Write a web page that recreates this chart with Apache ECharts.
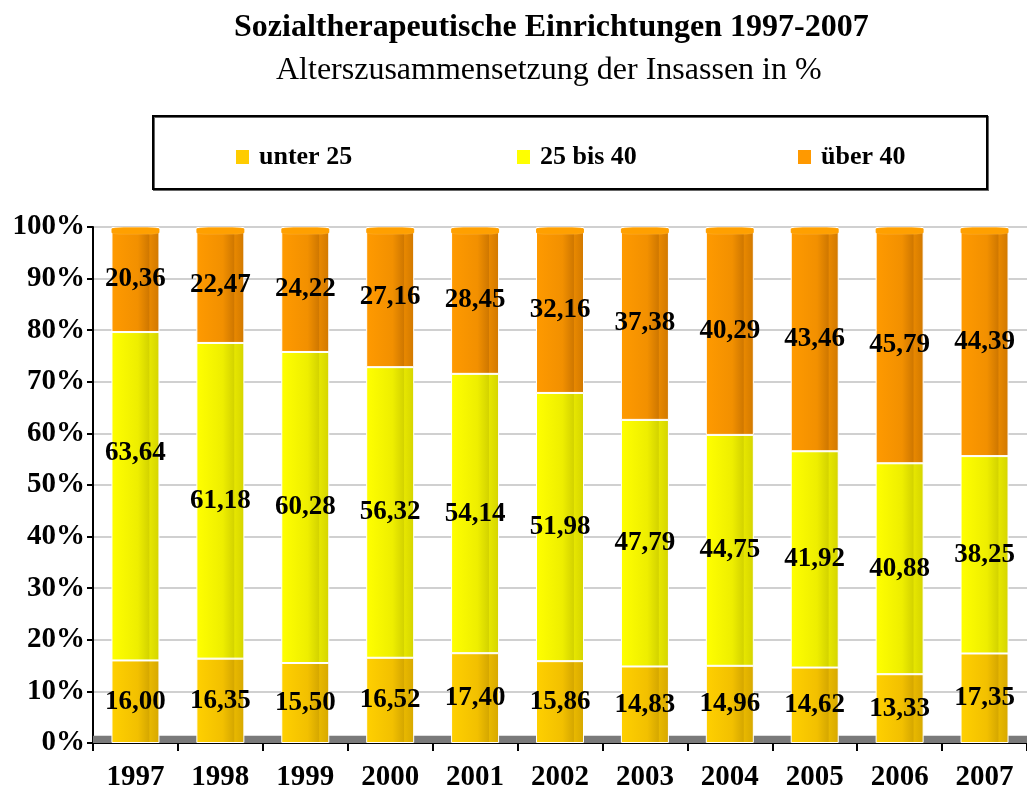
<!DOCTYPE html>
<html>
<head>
<meta charset="utf-8">
<script src="https://cdn.jsdelivr.net/npm/echarts@6/dist/echarts.min.js"></script>
<style>
  html, body { margin: 0; padding: 0; background: #fff; }
  #chart { width: 1027px; height: 792px; }
</style>
</head>
<body>
<div id="chart"></div>
<script>
const years = ['1997', '1998', '1999', '2000', '2001', '2002', '2003', '2004', '2005', '2006', '2007'];
const unter25 = [16.00, 16.35, 15.50, 16.52, 17.40, 15.86, 14.83, 14.96, 14.62, 13.33, 17.35];
const bis40 = [63.64, 61.18, 60.28, 56.32, 54.14, 51.98, 47.79, 44.75, 41.92, 40.88, 38.25];
const ueber40 = [20.36, 22.47, 24.22, 27.16, 28.45, 32.16, 37.38, 40.29, 43.46, 45.79, 44.39];
const seriesNames = ['unter 25', '25 bis 40', 'über 40'];
const legendColors = ['#ffcc00', '#ffff00', '#ff9900'];

const serif = '"Liberation Serif", "DejaVu Serif", serif';

// cylinder look: light front, darker right side
const cyl = (c1, c2, c3, c4) => new echarts.graphic.LinearGradient(0, 0, 1, 0, [
    { offset: 0, color: c1 },
    { offset: 0.55, color: c2 },
    { offset: 0.78, color: c3 },
    { offset: 0.8, color: c4 },
    { offset: 1, color: c3 }
]);

const fmt = v => v.toFixed(2).replace('.', ',');

const makeSeries = (name, values, color) => ({
    name: name,
    type: 'bar',
    stack: 'all',
    barWidth: 48,
    data: values,
    itemStyle: { color: color, borderColor: '#ffffff', borderWidth: 1 },
    label: {
        show: true,
        position: 'inside',
        color: '#000',
        fontFamily: serif,
        fontWeight: 'bold',
        fontSize: 27,
        formatter: p => fmt(p.value)
    },
    emphasis: { disabled: true }
});

const s1 = makeSeries(seriesNames[0], unter25, cyl('#ffd000', '#f2c000', '#d6a800', '#e8b800'));
s1.markArea = {
    silent: true,
    itemStyle: { color: '#7a7a7a' },
    data: [[{ yAxis: 0 }, { yAxis: 1.4 }]]
};
const s2 = makeSeries(seriesNames[1], bis40, cyl('#ffff00', '#eeee00', '#d4d400', '#e6e600'));
// the 1997 label in the reference sits higher than the segment centre
s2.data = bis40.map((v, i) => i === 0 ? { value: v, label: { offset: [0, -43] } } : v);
const s3 = makeSeries(seriesNames[2], ueber40, cyl('#ff9a00', '#f29000', '#d07800', '#e88800'));

// top cap of each cylinder
const totals = years.map((y, i) => +(unter25[i] + bis40[i] + ueber40[i]).toFixed(2));
const caps = {
    type: 'pictorialBar',
    data: totals,
    symbol: 'roundRect',
    symbolSize: [48, 7],
    symbolPosition: 'end',
    z: 5,
    silent: true,
    itemStyle: { color: '#ffa000', borderColor: '#ffffff', borderWidth: 1.5 },
    label: { show: false }
};

const legendLefts = [234, 515, 796];
const legends = seriesNames.map((n, i) => ({
    left: legendLefts[i],
    top: 144,
    padding: 0,
    itemWidth: 15,
    itemHeight: 16,
    icon: 'rect',
    selectedMode: false,
    data: [{ name: n, itemStyle: { color: legendColors[i] } }],
    textStyle: { fontFamily: serif, fontWeight: 'bold', fontSize: 26, color: '#000', padding: [0, 0, 0, 4] }
}));

const chart = echarts.init(document.getElementById('chart'));

const option = {
    backgroundColor: '#ffffff',
    animation: false,
    title: [{
        text: 'Sozialtherapeutische Einrichtungen 1997-2007',
        left: 229,
        top: 6,
        textStyle: { fontFamily: serif, fontWeight: 'bold', fontSize: 32, color: '#000', lineHeight: 34 }
    }, {
        text: 'Alterszusammensetzung der Insassen in %',
        left: 271,
        top: 49,
        textStyle: { fontFamily: serif, fontWeight: 'normal', fontSize: 32, color: '#000', lineHeight: 34 }
    }],
    graphic: [{
        type: 'rect',
        z: 0,
        shape: { x: 153, y: 116, width: 834, height: 73 },
        style: { fill: '#fff', stroke: '#000', lineWidth: 2, shadowColor: '#666', shadowOffsetX: 1, shadowOffsetY: 1 }
    }],
    legend: legends,
    grid: {
        left: 93,
        top: 227,
        width: 940,
        height: 516
    },
    xAxis: {
        type: 'category',
        data: years,
        axisLine: { lineStyle: { color: '#000', width: 2 } },
        axisTick: { show: true, length: 8, lineStyle: { color: '#000', width: 2 } },
        axisLabel: { color: '#000', fontFamily: serif, fontWeight: 'bold', fontSize: 29, margin: 20 }
    },
    yAxis: {
        type: 'value',
        min: 0,
        max: 100,
        interval: 10,
        axisLine: { show: true, lineStyle: { color: '#000', width: 2 } },
        axisTick: { show: true, length: 6, lineStyle: { color: '#000', width: 2 } },
        axisLabel: { color: '#000', fontFamily: serif, fontWeight: 'bold', fontSize: 29, margin: 8, formatter: '{value}%' },
        splitLine: { lineStyle: { color: '#c0c0c0', width: 1.5 } }
    },
    series: [s1, s2, s3, caps]
};

chart.setOption(option);
</script>
</body>
</html>
